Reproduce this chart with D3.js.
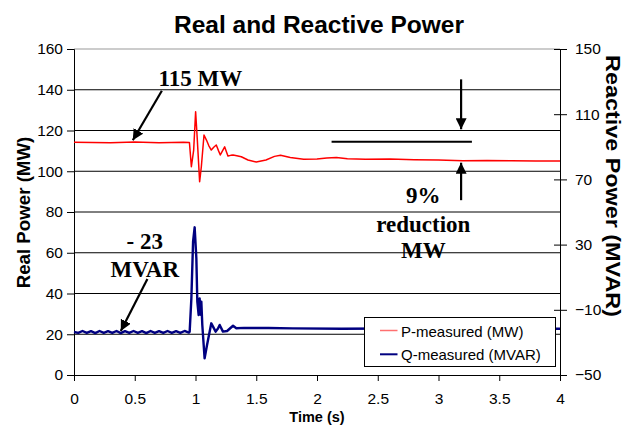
<!DOCTYPE html>
<html><head><meta charset="utf-8">
<script src="https://cdn.jsdelivr.net/npm/d3@7"></script>
<style>body{margin:0;background:#fff}svg{display:block}</style>
</head><body>
<svg id="c" width="627" height="429"></svg>
<script>
// ---- data ----
const timeTicks = [0,0.5,1,1.5,2,2.5,3,3.5,4];
const leftTicks = [0,20,40,60,80,100,120,140,160];
const rightTicks = [-50,-10,30,70,110,150];

const pTime = [0,0.3,0.5,0.7,0.9,0.95,0.966,0.985,1.001,1.015,1.034,1.048,1.07,1.09,1.11,1.13,1.15,1.171,1.19,1.204,1.22,1.24,1.255,1.267,1.29,1.309,1.34,1.377,1.432,1.5,1.58,1.65,1.7,1.78,1.89,2.0,2.08,2.16,2.25,2.4,2.6,2.8,3.0,3.2,3.4,3.6,3.8,4.0];
const pMW   = [114.2,114.0,114.3,114.0,114.2,114.1,102.2,110.4,129.2,115.3,94.9,102.2,117.8,115.3,112.5,110.4,111.8,112.9,110,108,109.8,112,109.5,107.5,107.8,108,107.6,107.1,105.5,104.5,105.5,107.3,107.8,106.8,105.9,106.0,106.5,106.8,106.1,105.9,106.0,105.7,105.5,105.2,105.3,105.1,105.0,105.0];

const qTime = [0,0.035,0.07,0.105,0.14,0.175,0.21,0.245,0.28,0.315,0.35,0.385,0.42,0.455,0.49,0.525,0.56,0.595,0.63,0.665,0.7,0.735,0.77,0.805,0.84,0.875,0.91,0.945,0.952,0.966,0.98,0.993,1.007,1.015,1.026,1.034,1.042,1.048,1.056,1.075,1.095,1.13,1.166,1.185,1.199,1.226,1.26,1.309,1.336,1.4,1.6,1.8,2.2,2.6,3.0,3.5,4.0];
const qMVAR = [-23.6,-24.2,-23.0,-24.2,-23.1,-24.3,-23.0,-24.1,-23.1,-24.2,-23.0,-24.3,-23.1,-24.2,-23.0,-24.1,-23.1,-24.3,-23.0,-24.2,-23.1,-24.2,-23.0,-24.1,-23.1,-24.2,-23.0,-24.0,-23.4,-3,31.8,40.6,21.6,-5,-13.2,-3,-13,-5,-19.3,-39.8,-31.6,-18.3,-23.4,-21.5,-19.3,-23.4,-23,-19.8,-21.3,-21.1,-21.2,-21.4,-21.6,-21.5,-21.5,-21.6,-21.6];

const seriesNames = ["P-measured (MW)","Q-measured (MVAR)"];
const seriesColors = ["#ff0000","#000080"];

// annotations in data coordinates: [t, value on left axis]
const annoTexts = [
  {lines:["115 MW"], t:1.04, v:[142.0]},
  {lines:["- 23","MVAR"], t:0.582, v:[61.7,47.9]},
  {lines:["9%","reduction","MW"], t:2.875, v:[84.6,70.3,57.3]}
];
const arrows = [
  {from:[0.723,139.5], to:[0.484,115.2]},
  {from:[0.604,47.1], to:[0.385,21.6]},
  {from:[3.186,145.1], to:[3.186,120.6]},
  {from:[3.186,85.8], to:[3.186,104.2]}
];
const refLine = {t0:2.12, t1:3.275, v:114.5};

// ---- chart ----
const svg = d3.select("#c");
const L=74, R=560, T=49, B=375;
const x = d3.scaleLinear().domain([0,4]).range([L,R]);
const yL = d3.scaleLinear().domain([0,160]).range([B,T]);
const yR = d3.scaleLinear().domain([-50,150]).range([B,T]);

// gridlines
svg.append("g").selectAll("line").data(leftTicks.filter(d=>d>0&&d<160)).join("line")
  .attr("x1",L).attr("x2",R).attr("y1",d=>yL(d)).attr("y2",d=>yL(d))
  .attr("stroke","#000").attr("stroke-width",1);
svg.append("line").attr("x1",L).attr("x2",R).attr("y1",yL(160)).attr("y2",yL(160))
  .attr("stroke","#999").attr("stroke-width",1);

// axes
const fontAx = "'Liberation Sans',Arial,sans-serif";
const gx = svg.append("g").attr("transform",`translate(0,${B})`)
  .call(d3.axisBottom(x).tickValues(timeTicks).tickFormat(d3.format("")).tickSize(6).tickPadding(12));
const gl = svg.append("g").attr("transform",`translate(${L},0)`)
  .call(d3.axisLeft(yL).tickValues(leftTicks).tickSize(7).tickPadding(4));
const gr = svg.append("g").attr("transform",`translate(${R},0)`)
  .call(d3.axisRight(yR).tickValues(rightTicks).tickSize(7).tickPadding(8));
gr.selectAll(".tick line").attr("x1",-6);
[gx,gl,gr].forEach(g=>{
  g.selectAll("text").attr("font-family",fontAx).attr("font-size",15.5).attr("fill","#000");
  g.selectAll("line,path").attr("stroke","#000").attr("stroke-width",1);
});

// series
const pData = pTime.map((t,i)=>[t,pMW[i]]);
const qData = qTime.map((t,i)=>[t,qMVAR[i]]);
svg.append("path").datum(pData)
  .attr("d",d3.line().x(d=>x(d[0])).y(d=>yL(d[1])))
  .attr("fill","none").attr("stroke",seriesColors[0]).attr("stroke-width",1.5).attr("stroke-linejoin","round");
svg.append("path").datum(qData)
  .attr("d",d3.line().x(d=>x(d[0])).y(d=>yR(d[1])))
  .attr("fill","none").attr("stroke",seriesColors[1]).attr("stroke-width",2.4).attr("stroke-linejoin","round");

// annotations
const defs = svg.append("defs");
defs.append("marker").attr("id","ah").attr("viewBox","0 0 10 10").attr("refX",10).attr("refY",5)
  .attr("markerWidth",5).attr("markerHeight",5).attr("markerUnits","strokeWidth").attr("orient","auto")
  .append("path").attr("d","M0,0 L10,5 L0,10 z").attr("fill","#000");
svg.append("g").selectAll("line").data(arrows).join("line")
  .attr("x1",d=>x(d.from[0])).attr("y1",d=>yL(d.from[1]))
  .attr("x2",d=>x(d.to[0])).attr("y2",d=>yL(d.to[1]))
  .attr("stroke","#000").attr("stroke-width",2.2).attr("marker-end","url(#ah)");
svg.append("line").attr("x1",x(refLine.t0)).attr("x2",x(refLine.t1))
  .attr("y1",yL(refLine.v)).attr("y2",yL(refLine.v)).attr("stroke","#000").attr("stroke-width",2);

const fontSerif = "'Liberation Serif','Times New Roman',serif";
annoTexts.forEach(a=>{
  a.lines.forEach((s,i)=>{
    svg.append("text").attr("x",x(a.t)).attr("y",yL(a.v[i])).attr("text-anchor","middle")
      .attr("font-family",fontSerif).attr("font-weight","bold").attr("font-size",23).text(s);
  });
});

// legend
const lg = svg.append("g");
lg.append("rect").attr("x",364.5).attr("y",317.5).attr("width",191).attr("height",49)
  .attr("fill","#fff").attr("stroke","#000").attr("stroke-width",1);
seriesNames.forEach((n,i)=>{
  const yy = 330.5 + i*23.8;
  lg.append("line").attr("x1",380).attr("x2",397.5).attr("y1",yy).attr("y2",yy)
    .attr("stroke",i===0?"#ff7070":seriesColors[1]).attr("stroke-width",i===0?1.5:2);
  lg.append("text").attr("x",401).attr("y",yy+6).attr("font-family",fontAx).attr("font-size",15).text(n);
});

// titles
svg.append("text").attr("x",319).attr("y",32.5).attr("text-anchor","middle")
  .attr("font-family",fontAx).attr("font-weight","bold").attr("font-size",24.5).text("Real and Reactive Power");
svg.append("text").attr("x",317).attr("y",422).attr("text-anchor","middle")
  .attr("font-family",fontAx).attr("font-weight","bold").attr("font-size",14.5).text("Time (s)");
svg.append("text").attr("transform",`translate(29.5,212.5) rotate(-90)`).attr("text-anchor","middle")
  .attr("font-family",fontAx).attr("font-weight","bold").attr("font-size",18.7).text("Real Power (MW)");
svg.append("text").attr("transform",`translate(605.5,186) rotate(90)`).attr("text-anchor","middle")
  .attr("font-family",fontAx).attr("font-weight","bold").attr("font-size",19.5)
  .attr("textLength",262).attr("lengthAdjust","spacingAndGlyphs").text("Reactive Power (MVAR)");
</script>
</body></html>
